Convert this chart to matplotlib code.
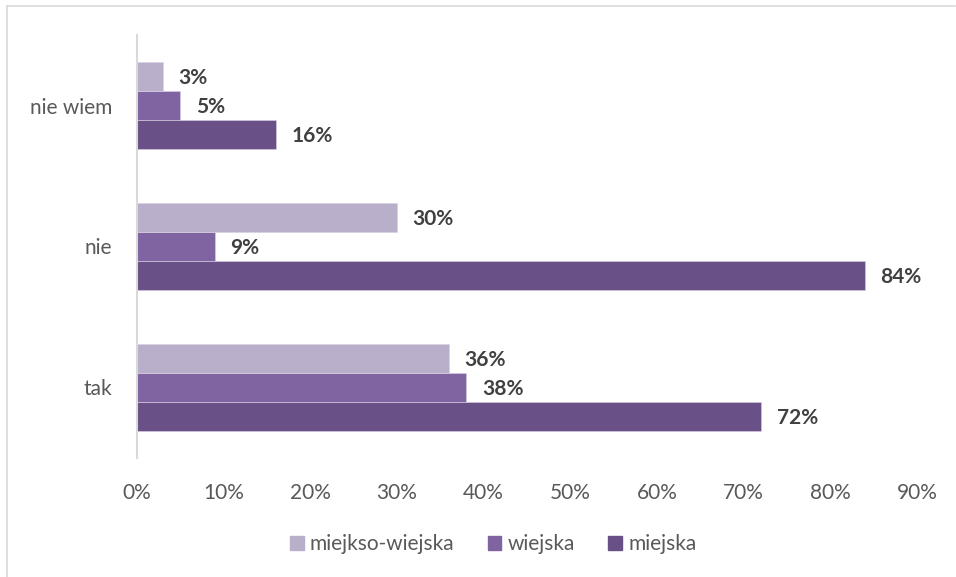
import numpy as np
import matplotlib.pyplot as plt
from matplotlib.lines import Line2D

plt.rcParams['font.family'] = ['Lato', 'DejaVu Sans']

categories = ['tak', 'nie', 'nie wiem']
series_names = ['miejska', 'wiejska', 'miejkso-wiejska']
miejska = [72, 84, 16]
wiejska = [38, 9, 5]
miejsko_wiejska = [36, 30, 3]
x_ticks = [0, 10, 20, 30, 40, 50, 60, 70, 80, 90]

colors = {'miejska': '#695086', 'wiejska': '#8064A2', 'miejkso-wiejska': '#B9AFCB'}
values = {'miejska': miejska, 'wiejska': wiejska, 'miejkso-wiejska': miejsko_wiejska}

fig = plt.figure(figsize=(9.56, 5.77), dpi=100)
ax = fig.add_axes([0.1433, 0.2063, 0.8159, 0.733])

y = np.arange(len(categories))
h = 0.206
offsets = {'miejska': -h, 'wiejska': 0, 'miejkso-wiejska': h}

for name in series_names:
    vals = values[name]
    ax.barh(y + offsets[name], vals, height=h, color=colors[name],
            edgecolor='#D8D0E3', linewidth=0.4, label=name)
    for yi, v in zip(y, vals):
        ax.text(v + 1.8, yi + offsets[name] - 0.01, f'{v}%', va='center', ha='left',
                fontsize=15, fontweight='bold', color='#404040')

ax.set_xlim(0, 90)
ax.set_ylim(-0.5, 2.5)
ax.set_xticks(x_ticks)
ax.set_xticklabels([f'{t}%' for t in x_ticks])
ax.set_yticks(y)
ax.set_yticklabels(categories)
ax.tick_params(axis='both', length=0, labelsize=15, colors='#595959')
ax.tick_params(axis='x', pad=18)
ax.tick_params(axis='y', pad=18)
for s in ['top', 'right', 'bottom']:
    ax.spines[s].set_visible(False)
ax.spines['left'].set_color('#D9D9D9')
ax.spines['left'].set_linewidth(1.5)

handles = [plt.Rectangle((0, 0), 1, 1, color=colors[n]) for n in ['miejkso-wiejska', 'wiejska', 'miejska']]
leg = fig.legend(handles, ['miejkso-wiejska', 'wiejska', 'miejska'], loc='center',
                 bbox_to_anchor=(0.516, 0.057), ncol=3, frameon=False, fontsize=15,
                 handlelength=0.65, handleheight=0.65, handletextpad=0.3, columnspacing=1.6)
for t in leg.get_texts():
    t.set_color('#595959')

# thin frame lines along top and left edge
fig.add_artist(Line2D([0.0075, 0.999], [0.9896, 0.9896], transform=fig.transFigure, color='#D9D9D9', lw=1.2))
fig.add_artist(Line2D([0.0075, 0.0075], [0.0, 0.9896], transform=fig.transFigure, color='#D9D9D9', lw=1.2))

fig.savefig('out.png', dpi=100)
